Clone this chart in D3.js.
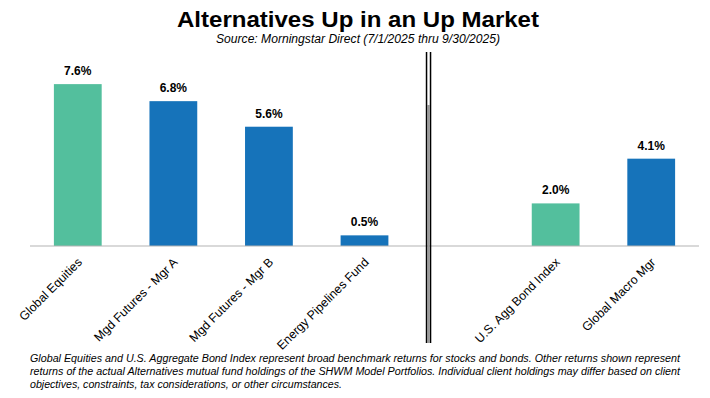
<!DOCTYPE html>
<html lang="en">
<head>
<meta charset="UTF-8">
<title>Alternatives Up in an Up Market</title>
<script src="https://cdnjs.cloudflare.com/ajax/libs/d3/7.8.5/d3.min.js"></script>
<style>
  body { margin: 0; background: #fff; }
  svg text { font-family: "Liberation Sans", Arial, sans-serif; }
</style>
</head>
<body>
<div id="chart"></div>
<script>
// data (the empty entry is the gap beside the divider)
var categories = ["Global Equities", "Mgd Futures - Mgr A", "Mgd Futures - Mgr B",
    "Energy Pipelines Fund", "gap", "U.S. Agg Bond Index", "Global Macro Mgr"];
var returnsPct = [7.6, 6.8, 5.6, 0.5, null, 2.0, 4.1];
var kinds = ["benchmark", "alt", "alt", "alt", null, "benchmark", "alt"];
var footnote = [
    "Global Equities and U.S. Aggregate Bond Index represent broad benchmark returns for stocks and bonds.  Other returns shown represent",
    "returns of the actual Alternatives mutual fund holdings of the SHWM Model Portfolios.  Individual client holdings may differ based on client",
    "objectives, constraints, tax considerations, or other circumstances."
];

var width = 710, height = 398;
var colors = {benchmark: "#53bf9d", alt: "#1673ba"};

var svg = d3.select("#chart").append("svg")
    .attr("width", width)
    .attr("height", height);

// scales
var x = d3.scaleBand()
    .domain(categories)
    .range([30, 699])
    .paddingInner(0.5)
    .paddingOuter(0.25);

var y = d3.scaleLinear()
    .domain([0, 8])
    .range([246, 75.6]);

var rows = categories.map(function(c, i) {
    return {name: c, value: returnsPct[i], kind: kinds[i]};
}).filter(function(d) { return d.value !== null; });

// title
svg.append("text")
    .attr("x", 358).attr("y", 27)
    .attr("text-anchor", "middle")
    .attr("font-size", 22).attr("font-weight", "bold")
    .attr("textLength", 362).attr("lengthAdjust", "spacingAndGlyphs")
    .text("Alternatives Up in an Up Market");

svg.append("text")
    .attr("x", 358).attr("y", 43)
    .attr("text-anchor", "middle")
    .attr("font-size", 12).attr("font-style", "italic")
    .attr("textLength", 284).attr("lengthAdjust", "spacingAndGlyphs")
    .text("Source: Morningstar Direct (7/1/2025 thru 9/30/2025)");

// bars
svg.append("g").selectAll("rect")
    .data(rows)
    .enter()
    .append("rect")
    .attr("x", function(d) { return x(d.name); })
    .attr("y", function(d) { return y(d.value); })
    .attr("width", x.bandwidth())
    .attr("height", function(d) { return y(0) - y(d.value); })
    .attr("fill", function(d) { return colors[d.kind]; });

// value labels
svg.append("g").selectAll("text")
    .data(rows)
    .enter()
    .append("text")
    .attr("x", function(d) { return x(d.name) + x.bandwidth() / 2; })
    .attr("y", function(d) { return y(d.value) - 9; })
    .attr("text-anchor", "middle")
    .attr("font-size", 12).attr("font-weight", "bold")
    .text(function(d) { return d.value.toFixed(1) + "%"; });

// baseline
svg.append("line")
    .attr("x1", x.range()[0]).attr("x2", x.range()[1])
    .attr("y1", y(0)).attr("y2", y(0))
    .attr("stroke", "#b3b3b3").attr("stroke-width", 1);

// category labels, rotated
svg.append("g").selectAll("text")
    .data(rows)
    .enter()
    .append("text")
    .attr("transform", function(d) {
        return "translate(" + (x(d.name) + x.bandwidth() / 2 + 5) + "," + (y(0) + 17) + ") rotate(-45)";
    })
    .attr("text-anchor", "end")
    .attr("font-size", 12.3)
    .text(function(d) { return d.name; });

// double divider
var sepX = x("gap") - x.step() * 0.08;
svg.append("line")
    .attr("x1", sepX).attr("x2", sepX)
    .attr("y1", 105).attr("y2", 343)
    .attr("stroke", "#999").attr("stroke-width", 2);
[-2, 2].forEach(function(off) {
    svg.append("line")
        .attr("x1", sepX + off).attr("x2", sepX + off)
        .attr("y1", 52).attr("y2", 343)
        .attr("stroke", "#000").attr("stroke-width", 1.5);
});

// footnote
var noteWidths = [650, 650, 312];
svg.append("g").selectAll("text")
    .data(footnote)
    .enter()
    .append("text")
    .attr("x", 30)
    .attr("y", function(d, i) { return 362 + i * 13; })
    .attr("font-size", 10).attr("font-style", "italic")
    .attr("textLength", function(d, i) { return noteWidths[i]; })
    .attr("lengthAdjust", "spacingAndGlyphs")
    .text(function(d) { return d; });
</script>
</body>
</html>
